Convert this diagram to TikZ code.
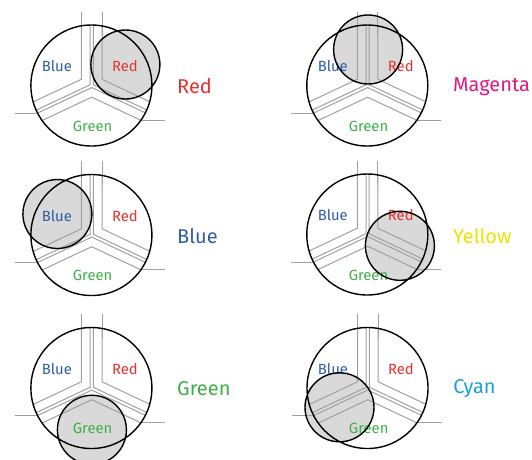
\documentclass[tikz,border=0pt]{standalone}
\usepackage{fontspec}
\setmainfont{Fira Sans}
\definecolor{discgray}{HTML}{D9D9D9}
\definecolor{pipegray}{HTML}{A0A0A0}
\definecolor{tblue}{HTML}{2F5CA6}
\definecolor{tred}{HTML}{E8312E}
\definecolor{tgreen}{HTML}{3DAF48}
\definecolor{tmagenta}{HTML}{E01B80}
\definecolor{tyellow}{HTML}{EDE300}
\definecolor{tcyan}{HTML}{1AA0DC}
\begin{document}
\begin{tikzpicture}[x=1pt,y=-1pt,
  pipe/.style={pipegray, line width=1pt},
  ring/.style={black, line width=1.4pt},
  small/.style={font=\fontsize{14.8}{15}\selectfont, inner sep=0pt},
  big/.style={font=\fontsize{20}{21}\selectfont, inner sep=0pt, anchor=west}]

\useasboundingbox (0,0) rectangle (532,459);

% Red
\begin{scope}[shift={(91.4,85.5)}]
\fill[discgray] (34,-21) circle (34.5pt);
\draw[pipe] (-10,-74) -- (-10,-50) (10.6,-74) -- (10.6,-50) (-76,27.6) -- (-53.9,27.6) (49.5,34.8) -- (74,34.8);
\begin{scope}
\clip (0,0) circle (60.5pt);
\draw[pipe] (-10,-70) -- (-10,-6.24) -- (-90,31.4) (10.6,-70) -- (10.6,-6.24) -- (90.6,31.4);
\draw[pipe] (-1.3,-70) -- (-1.3,-0.72) -- (-81.3,36.93) (1.9,-70) -- (1.9,-0.72) -- (81.9,36.93);
\draw[pipe] (-79.7,39.72) -- (0.3,2.07) -- (80.3,39.72) (-79.7,49.33) -- (0.3,11.68) -- (80.3,49.33);
\end{scope}
\draw (-34.5,-19) node[small, tblue] (blue1) {Blue};
\draw (33.5,-19) node[small, tred] (red1) {Red};
\draw (1.2,40.5) node[small, tgreen] (green1) {Green};
\draw[ring] (0,0) circle (60.5pt) (34,-21) circle (34.5pt);
\draw (85.6,1) node[big, tred] (name1) {Red};
\end{scope}

% Magenta
\begin{scope}[shift={(367.3,85.5)}]
\fill[discgray] (0.8,-36) circle (34.5pt);
\draw[pipe] (-10,-74) -- (-10,-50) (10.6,-74) -- (10.6,-50) (-76,27.6) -- (-53.9,27.6) (49.5,34.8) -- (74,34.8);
\begin{scope}
\clip (0,0) circle (60.5pt);
\draw[pipe] (-10,-70) -- (-10,-6.24) -- (-90,31.4) (10.6,-70) -- (10.6,-6.24) -- (90.6,31.4);
\draw[pipe] (-1.3,-70) -- (-1.3,-0.72) -- (-81.3,36.93) (1.9,-70) -- (1.9,-0.72) -- (81.9,36.93);
\draw[pipe] (-79.7,39.72) -- (0.3,2.07) -- (80.3,39.72) (-79.7,49.33) -- (0.3,11.68) -- (80.3,49.33);
\end{scope}
\draw (-34.5,-19) node[small, tblue] (blue2) {Blue};
\draw (33.5,-19) node[small, tred] (red2) {Red};
\draw (1.2,40.5) node[small, tgreen] (green2) {Green};
\draw[ring] (0,0) circle (60.5pt) (0.8,-36) circle (34.5pt);
\draw (85.6,1) node[big, tmagenta] (name2) {Magenta};
\end{scope}

% Blue
\begin{scope}[shift={(91.4,235)}]
\fill[discgray] (-34,-21) circle (34.5pt);
\draw[pipe] (-10,-74) -- (-10,-50) (10.6,-74) -- (10.6,-50) (-76,27.6) -- (-53.9,27.6) (49.5,34.8) -- (74,34.8);
\begin{scope}
\clip (0,0) circle (60.5pt);
\draw[pipe] (-10,-70) -- (-10,-6.24) -- (-90,31.4) (10.6,-70) -- (10.6,-6.24) -- (90.6,31.4);
\draw[pipe] (-1.3,-70) -- (-1.3,-0.72) -- (-81.3,36.93) (1.9,-70) -- (1.9,-0.72) -- (81.9,36.93);
\draw[pipe] (-79.7,39.72) -- (0.3,2.07) -- (80.3,39.72) (-79.7,49.33) -- (0.3,11.68) -- (80.3,49.33);
\end{scope}
\draw (-34.5,-19) node[small, tblue] (blue3) {Blue};
\draw (33.5,-19) node[small, tred] (red3) {Red};
\draw (1.2,40.5) node[small, tgreen] (green3) {Green};
\draw[ring] (0,0) circle (60.5pt) (-34,-21) circle (34.5pt);
\draw (85.6,1) node[big, tblue] (name3) {Blue};
\end{scope}

% Yellow
\begin{scope}[shift={(367.3,234.5)}]
\fill[discgray] (32.6,11.3) circle (34.5pt);
\draw[pipe] (-10,-74) -- (-10,-50) (10.6,-74) -- (10.6,-50) (-76,27.6) -- (-53.9,27.6) (49.5,34.8) -- (74,34.8);
\begin{scope}
\clip (0,0) circle (60.5pt);
\draw[pipe] (-10,-70) -- (-10,-6.24) -- (-90,31.4) (10.6,-70) -- (10.6,-6.24) -- (90.6,31.4);
\draw[pipe] (-1.3,-70) -- (-1.3,-0.72) -- (-81.3,36.93) (1.9,-70) -- (1.9,-0.72) -- (81.9,36.93);
\draw[pipe] (-79.7,39.72) -- (0.3,2.07) -- (80.3,39.72) (-79.7,49.33) -- (0.3,11.68) -- (80.3,49.33);
\end{scope}
\draw (-34.5,-19) node[small, tblue] (blue4) {Blue};
\draw (33.5,-19) node[small, tred] (red4) {Red};
\draw (1.2,40.5) node[small, tgreen] (green4) {Green};
\draw[ring] (0,0) circle (60.5pt) (32.6,11.3) circle (34.5pt);
\draw (85.6,1.5) node[big, tyellow] (name4) {Yellow};
\end{scope}

% Green
\begin{scope}[shift={(91.4,388)}]
\fill[discgray] (0.5,41.8) circle (34.5pt);
\draw[pipe] (-10,-74) -- (-10,-50) (10.6,-74) -- (10.6,-50) (-76,27.6) -- (-53.9,27.6) (49.5,34.8) -- (74,34.8);
\begin{scope}
\clip (0,0) circle (60.5pt);
\draw[pipe] (-10,-70) -- (-10,-6.24) -- (-90,31.4) (10.6,-70) -- (10.6,-6.24) -- (90.6,31.4);
\draw[pipe] (-1.3,-70) -- (-1.3,-0.72) -- (-81.3,36.93) (1.9,-70) -- (1.9,-0.72) -- (81.9,36.93);
\draw[pipe] (-79.7,39.72) -- (0.3,2.07) -- (80.3,39.72) (-79.7,49.33) -- (0.3,11.68) -- (80.3,49.33);
\end{scope}
\draw (-34.5,-19) node[small, tblue] (blue5) {Blue};
\draw (33.5,-19) node[small, tred] (red5) {Red};
\draw (1.2,40.5) node[small, tgreen] (green5) {Green};
\draw[ring] (0,0) circle (60.5pt) (0.5,41.8) circle (34.5pt);
\draw (85.6,1) node[big, tgreen] (name5) {Green};
\end{scope}

% Cyan
\begin{scope}[shift={(367.5,388)}]
\fill[discgray] (-28,19.3) circle (34.5pt);
\draw[pipe] (-10,-74) -- (-10,-50) (10.6,-74) -- (10.6,-50) (-76,27.6) -- (-53.9,27.6) (49.5,34.8) -- (74,34.8);
\begin{scope}
\clip (0,0) circle (60.5pt);
\draw[pipe] (-10,-70) -- (-10,-6.24) -- (-90,31.4) (10.6,-70) -- (10.6,-6.24) -- (90.6,31.4);
\draw[pipe] (-1.3,-70) -- (-1.3,-0.72) -- (-81.3,36.93) (1.9,-70) -- (1.9,-0.72) -- (81.9,36.93);
\draw[pipe] (-79.7,39.72) -- (0.3,2.07) -- (80.3,39.72) (-79.7,49.33) -- (0.3,11.68) -- (80.3,49.33);
\end{scope}
\draw (-34.5,-19) node[small, tblue] (blue6) {Blue};
\draw (33.5,-19) node[small, tred] (red6) {Red};
\draw (1.2,40.5) node[small, tgreen] (green6) {Green};
\draw[ring] (0,0) circle (60.5pt) (-28,19.3) circle (34.5pt);
\draw (85.6,1) node[big, tcyan] (name6) {Cyan};
\end{scope}

\end{tikzpicture}
\end{document}
